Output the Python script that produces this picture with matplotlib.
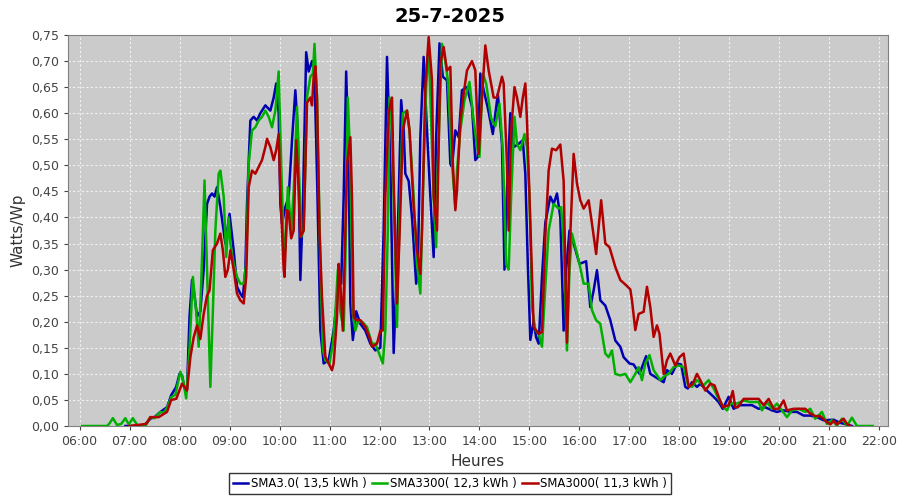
import matplotlib
matplotlib.use('Agg')
import matplotlib.pyplot as plt
import numpy as np

# readings per inverter, (HH:MM, Watts/Wp)
blue_t = ['06:55', '07:15', '07:20', '07:25', '07:30', '07:37', '07:45', '07:50', '07:56', '08:00', '08:03', '08:06', '08:09',
          '08:12', '08:15', '08:18', '08:21', '08:25', '08:29', '08:33', '08:36', '08:39', '08:42', '08:45', '08:49', '08:55',
          '09:00', '09:05', '09:09', '09:13', '09:16', '09:19', '09:21', '09:25', '09:29', '09:33', '09:37', '09:43', '09:49',
          '09:53', '09:56', '09:59', '10:01', '10:03', '10:07', '10:11', '10:15', '10:19', '10:22', '10:25', '10:28', '10:32',
          '10:35', '10:39', '10:42', '10:45', '10:49', '10:53', '10:59', '11:05', '11:11', '11:14', '11:17', '11:20', '11:23',
          '11:25', '11:28', '11:32', '11:37', '11:43', '11:49', '11:55', '12:01', '12:05', '12:09', '12:13', '12:17', '12:21',
          '12:26', '12:29', '12:31', '12:35', '12:39', '12:44', '12:46', '12:49', '12:53', '12:56', '13:01', '13:05', '13:08',
          '13:12', '13:16', '13:21', '13:25', '13:27', '13:31', '13:35', '13:39', '13:45', '13:51', '13:55', '13:58', '14:01',
          '14:05', '14:10', '14:16', '14:22', '14:27', '14:30', '14:33', '14:37', '14:41', '14:46', '14:52', '14:55', '14:58',
          '15:01', '15:05', '15:08', '15:11', '15:15', '15:19', '15:25', '15:29', '15:33', '15:37', '15:41', '15:44', '15:48',
          '15:53', '16:00', '16:08', '16:13', '16:17', '16:21', '16:25', '16:31', '16:37', '16:43', '16:49', '16:53', '17:00',
          '17:05', '17:12', '17:20', '17:25', '17:31', '17:37', '17:41', '17:45', '17:51', '17:57', '18:02', '18:07', '18:10',
          '18:15', '18:21', '18:25', '18:33', '18:41', '18:47', '18:52', '18:59', '19:05', '19:13', '19:27', '19:35', '19:43',
          '19:51', '19:57', '20:05', '20:13', '20:21', '20:29', '20:37', '20:45', '20:53', '21:05', '21:13', '21:21', '21:27']
blue_v = [0, 0, 0.005, 0.014, 0.017, 0.027, 0.036, 0.059, 0.075, 0.10, 0.097, 0.072, 0.07,
          0.21, 0.28, 0.25, 0.21, 0.22, 0.30, 0.426, 0.44, 0.446, 0.44, 0.458, 0.42, 0.35,
          0.407, 0.337, 0.267, 0.254, 0.247, 0.30, 0.426, 0.586, 0.593, 0.586, 0.60, 0.615, 0.605,
          0.63, 0.657, 0.60, 0.426, 0.388, 0.42, 0.44, 0.548, 0.644, 0.567, 0.28, 0.42, 0.717,
          0.68, 0.70, 0.676, 0.48, 0.183, 0.12, 0.126, 0.183, 0.273, 0.273, 0.44, 0.68, 0.503,
          0.235, 0.165, 0.22, 0.196, 0.183, 0.158, 0.145, 0.15, 0.375, 0.708, 0.503, 0.14, 0.31,
          0.625, 0.567, 0.484, 0.47, 0.40, 0.273, 0.30, 0.554, 0.708, 0.60, 0.44, 0.324, 0.554,
          0.734, 0.67, 0.663, 0.503, 0.497, 0.567, 0.554, 0.644, 0.65, 0.612, 0.51, 0.516, 0.676,
          0.644, 0.61, 0.56, 0.637, 0.54, 0.30, 0.45, 0.60, 0.535, 0.54, 0.548, 0.484, 0.311,
          0.165, 0.20, 0.17, 0.158, 0.286, 0.39, 0.44, 0.426, 0.446, 0.40, 0.183, 0.30, 0.375,
          0.35, 0.311, 0.316, 0.228, 0.26, 0.299, 0.241, 0.231, 0.203, 0.164, 0.152, 0.132, 0.12,
          0.118, 0.10, 0.134, 0.10, 0.094, 0.088, 0.084, 0.107, 0.10, 0.12, 0.118, 0.075, 0.072,
          0.084, 0.075, 0.081, 0.068, 0.056, 0.046, 0.033, 0.056, 0.033, 0.04, 0.04, 0.033, 0.036,
          0.03, 0.027, 0.03, 0.027, 0.027, 0.02, 0.02, 0.017, 0.011, 0.012, 0.006, 0.003, 0]

green_t = ['06:03', '06:33', '06:36', '06:40', '06:45', '06:50', '06:55', '06:59', '07:04', '07:10', '07:19', '07:25', '07:30',
           '07:37', '07:41', '07:45', '07:50', '07:55', '08:01', '08:04', '08:08', '08:12', '08:16', '08:20', '08:23', '08:26',
           '08:30', '08:33', '08:37', '08:40', '08:43', '08:47', '08:49', '08:53', '08:56', '08:59', '09:01', '09:05', '09:09',
           '09:13', '09:17', '09:20', '09:23', '09:27', '09:31', '09:35', '09:39', '09:43', '09:47', '09:51', '09:55', '09:59',
           '10:01', '10:05', '10:07', '10:10', '10:14', '10:17', '10:21', '10:23', '10:26', '10:29', '10:33', '10:37', '10:40',
           '10:42', '10:45', '10:49', '10:52', '10:55', '11:00', '11:04', '11:07', '11:10', '11:13', '11:17', '11:19', '11:22',
           '11:25', '11:28', '11:31', '11:34', '11:39', '11:45', '11:51', '11:55', '12:01', '12:04', '12:07', '12:10', '12:12',
           '12:15', '12:18', '12:21', '12:24', '12:28', '12:33', '12:36', '12:41', '12:45', '12:49', '12:52', '12:56', '12:59',
           '13:01', '13:05', '13:08', '13:10', '13:15', '13:19', '13:22', '13:27', '13:31', '13:33', '13:37', '13:42', '13:48',
           '13:52', '13:57', '14:00', '14:04', '14:08', '14:14', '14:19', '14:24', '14:28', '14:32', '14:35', '14:38', '14:42',
           '14:45', '14:49', '14:54', '14:57', '15:00', '15:03', '15:07', '15:11', '15:15', '15:19', '15:23', '15:29', '15:35',
           '15:38', '15:41', '15:45', '15:48', '15:51', '15:55', '16:00', '16:05', '16:11', '16:15', '16:20', '16:25', '16:31',
           '16:35', '16:39', '16:43', '16:49', '16:55', '17:01', '17:07', '17:11', '17:15', '17:19', '17:24', '17:29', '17:37',
           '17:43', '17:47', '17:53', '17:59', '18:05', '18:10', '18:15', '18:21', '18:29', '18:35', '18:41', '18:47', '18:53',
           '18:57', '19:01', '19:09', '19:17', '19:25', '19:35', '19:39', '19:45', '19:51', '19:57', '20:03', '20:09', '20:15',
           '20:23', '20:31', '20:37', '20:43', '20:51', '20:57', '21:03', '21:09', '21:15', '21:21', '21:27', '21:33', '21:52']
green_v = [0, 0, 0.005, 0.015, 0.002, 0.004, 0.015, 0.003, 0.015, 0, 0, 0.017, 0.015,
           0.027, 0.025, 0.035, 0.055, 0.06, 0.104, 0.09, 0.053, 0.15, 0.286, 0.22, 0.152, 0.273,
           0.471, 0.30, 0.075, 0.22, 0.375, 0.484, 0.49, 0.44, 0.324, 0.40, 0.35, 0.311, 0.286,
           0.273, 0.273, 0.311, 0.503, 0.567, 0.573, 0.586, 0.593, 0.605, 0.593, 0.573, 0.605, 0.68,
           0.56, 0.343, 0.337, 0.458, 0.375, 0.45, 0.612, 0.503, 0.363, 0.375, 0.63, 0.67, 0.676,
           0.733, 0.63, 0.311, 0.146, 0.126, 0.12, 0.158, 0.216, 0.30, 0.22, 0.183, 0.311, 0.63,
           0.503, 0.216, 0.183, 0.20, 0.20, 0.19, 0.158, 0.158, 0.133, 0.12, 0.183, 0.375, 0.63,
           0.575, 0.375, 0.19, 0.407, 0.60, 0.605, 0.567, 0.44, 0.311, 0.254, 0.44, 0.65, 0.733,
           0.63, 0.44, 0.343, 0.503, 0.733, 0.70, 0.663, 0.503, 0.42, 0.49, 0.567, 0.625, 0.66,
           0.60, 0.535, 0.516, 0.676, 0.657, 0.59, 0.575, 0.618, 0.529, 0.311, 0.30, 0.44, 0.593,
           0.541, 0.529, 0.56, 0.535, 0.44, 0.228, 0.184, 0.177, 0.152, 0.267, 0.375, 0.426, 0.417,
           0.42, 0.35, 0.145, 0.30, 0.369, 0.343, 0.311, 0.273, 0.273, 0.222, 0.203, 0.196, 0.139,
           0.132, 0.145, 0.10, 0.097, 0.10, 0.084, 0.10, 0.113, 0.088, 0.12, 0.136, 0.107, 0.088,
           0.097, 0.10, 0.113, 0.116, 0.113, 0.081, 0.075, 0.088, 0.078, 0.088, 0.072, 0.052, 0.036,
           0.03, 0.043, 0.043, 0.049, 0.046, 0.046, 0.03, 0.046, 0.033, 0.043, 0.03, 0.017, 0.03,
           0.033, 0.027, 0.033, 0.014, 0.027, 0.004, 0.011, 0.001, 0.014, 0, 0.016, 0, 0]

red_t = ['07:00', '07:20', '07:25', '07:35', '07:45', '07:50', '07:56', '08:03', '08:09', '08:13', '08:17', '08:21', '08:25',
         '08:29', '08:33', '08:36', '08:40', '08:45', '08:49', '08:52', '08:55', '08:58', '09:01', '09:05', '09:09', '09:13',
         '09:17', '09:20', '09:23', '09:27', '09:31', '09:35', '09:39', '09:43', '09:45', '09:49', '09:53', '09:56', '09:59',
         '10:01', '10:05', '10:06', '10:09', '10:11', '10:14', '10:17', '10:20', '10:23', '10:25', '10:29', '10:33', '10:37',
         '10:39', '10:41', '10:43', '10:45', '10:48', '10:51', '10:55', '11:03', '11:05', '11:09', '11:11', '11:13', '11:16',
         '11:18', '11:21', '11:25', '11:27', '11:29', '11:32', '11:37', '11:43', '11:48', '11:51', '11:57', '12:01', '12:04',
         '12:07', '12:11', '12:15', '12:17', '12:21', '12:24', '12:28', '12:33', '12:36', '12:41', '12:45', '12:49', '12:51',
         '12:55', '12:59', '13:03', '13:05', '13:09', '13:13', '13:17', '13:21', '13:25', '13:28', '13:31', '13:33', '13:37',
         '13:41', '13:45', '13:51', '13:55', '13:59', '14:03', '14:07', '14:11', '14:17', '14:21', '14:27', '14:29', '14:33',
         '14:35', '14:38', '14:42', '14:45', '14:49', '14:52', '14:55', '14:57', '15:00', '15:05', '15:11', '15:15', '15:19',
         '15:23', '15:27', '15:32', '15:37', '15:41', '15:43', '15:45', '15:48', '15:53', '15:57', '16:01', '16:05', '16:11',
         '16:15', '16:20', '16:26', '16:31', '16:36', '16:43', '16:49', '16:56', '17:01', '17:03', '17:07', '17:11', '17:17',
         '17:21', '17:25', '17:29', '17:33', '17:36', '17:41', '17:45', '17:49', '17:55', '18:00', '18:05', '18:11', '18:16',
         '18:21', '18:25', '18:31', '18:37', '18:42', '18:47', '18:52', '18:59', '19:04', '19:07', '19:10', '19:17', '19:35',
         '19:41', '19:47', '19:53', '19:59', '20:05', '20:09', '20:17', '20:31', '20:37', '20:43', '20:49', '20:55', '21:01',
         '21:05', '21:09', '21:17', '21:21', '21:25']
red_v = [0, 0.004, 0.017, 0.017, 0.027, 0.05, 0.052, 0.081, 0.068, 0.132, 0.17, 0.193, 0.167,
         0.215, 0.25, 0.26, 0.337, 0.35, 0.369, 0.337, 0.286, 0.30, 0.337, 0.30, 0.254, 0.241,
         0.235, 0.286, 0.458, 0.49, 0.484, 0.497, 0.51, 0.535, 0.551, 0.535, 0.51, 0.529, 0.56,
         0.45, 0.30, 0.286, 0.414, 0.41, 0.36, 0.375, 0.548, 0.458, 0.363, 0.375, 0.62, 0.63,
         0.615, 0.67, 0.69, 0.63, 0.375, 0.247, 0.133, 0.107, 0.12, 0.209, 0.311, 0.273, 0.183,
         0.311, 0.503, 0.554, 0.44, 0.209, 0.203, 0.203, 0.19, 0.17, 0.152, 0.158, 0.183, 0.183,
         0.44, 0.60, 0.63, 0.47, 0.235, 0.363, 0.567, 0.605, 0.567, 0.42, 0.337, 0.292, 0.375,
         0.65, 0.746, 0.663, 0.44, 0.375, 0.695, 0.727, 0.682, 0.689, 0.503, 0.414, 0.452, 0.586,
         0.637, 0.682, 0.70, 0.682, 0.522, 0.63, 0.73, 0.682, 0.63, 0.63, 0.67, 0.657, 0.503,
         0.375, 0.567, 0.65, 0.63, 0.593, 0.63, 0.657, 0.586, 0.44, 0.19, 0.177, 0.18, 0.363,
         0.49, 0.532, 0.529, 0.54, 0.47, 0.30, 0.16, 0.33, 0.522, 0.465, 0.433, 0.417, 0.433,
         0.388, 0.33, 0.433, 0.35, 0.343, 0.305, 0.28, 0.27, 0.262, 0.241, 0.184, 0.215, 0.219,
         0.267, 0.228, 0.171, 0.193, 0.177, 0.10, 0.126, 0.139, 0.116, 0.132, 0.139, 0.075, 0.081,
         0.10, 0.088, 0.068, 0.081, 0.078, 0.056, 0.036, 0.04, 0.067, 0.036, 0.036, 0.052, 0.052,
         0.04, 0.052, 0.033, 0.033, 0.049, 0.03, 0.033, 0.033, 0.024, 0.019, 0.019, 0.01, 0.003,
         0.01, 0.003, 0.014, 0.004, 0]

names = ['SMA3.0( 13,5 kWh )', 'SMA3300( 12,3 kWh )', 'SMA3000( 11,3 kWh )']
colors = ['#0000b0', '#00b000', '#b00000']
hour_labels = ['%02d:00' % h for h in range(6, 23)]
y_ticks = [i * 0.05 for i in range(16)]


def to_hours(times):  # "HH:MM" -> decimal hours
    return np.array([int(s[:2]) + int(s[3:]) / 60 for s in times])


fig = plt.figure(figsize=(9, 5), dpi=100)
ax = fig.add_axes([0.0756, 0.148, 0.911, 0.782])
ax.set_facecolor('#cbcbcb')

for t, v, c, n in zip([blue_t, green_t, red_t], [blue_v, green_v, red_v], colors, names):
    ax.plot(to_hours(t), v, color=c, lw=1.8, label=n, zorder=3)

ax.set_xlim(5.77, 22.17)
ax.set_ylim(0, 0.75)
ax.set_xticks(range(6, 23))
ax.set_xticklabels(hour_labels)
ax.set_yticks(y_ticks)
ax.set_yticklabels([('%.2f' % v).replace('.', ',') for v in y_ticks])
ax.tick_params(labelsize=9, colors='#444444', length=3)
ax.grid(True, color='#f2f2f2', linestyle=(0, (2, 2)), linewidth=0.8)
ax.set_axisbelow(True)
for s in ax.spines.values():
    s.set_color('#808080')

fig.suptitle('25-7-2025', x=0.5, y=0.985, fontsize=14, fontweight='bold')
ax.set_xlabel('Heures', fontsize=11, color='#333333')
ax.set_ylabel('Watts/Wp', fontsize=11, color='#333333')

leg = fig.legend(loc='lower center', bbox_to_anchor=(0.5, 0.0), ncol=3, fontsize=8.4,
                 frameon=True, fancybox=False, edgecolor='black', handlelength=1.3,
                 handletextpad=0.2, columnspacing=0.5, borderpad=0.35)
leg.get_frame().set_linewidth(1.0)

fig.savefig('out.png', dpi=100)
